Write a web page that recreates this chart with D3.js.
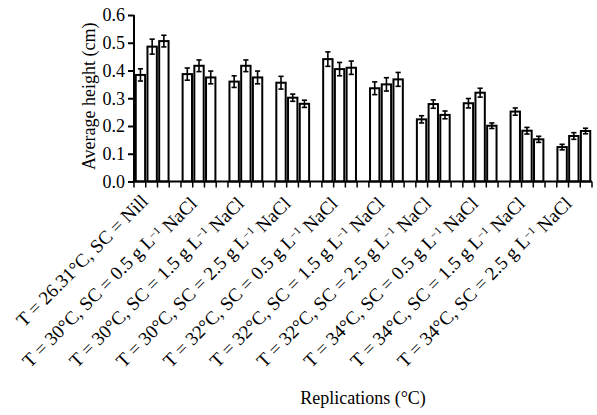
<!DOCTYPE html>
<html>
<head>
<meta charset="utf-8">
<script src="https://cdn.jsdelivr.net/npm/d3@7"></script>
<style>
  body { margin: 0; background: #fff; }
  svg text { font-family: "Liberation Serif", "Times New Roman", serif; fill: #000; }
</style>
</head>
<body>
<div id="wrapper"></div>
<script>
// data
const groups = [
  ["T = 26.31°C, SC = Nill"],
  ["T = 30°C, SC = 0.5 g L", "NaCl"],
  ["T = 30°C, SC = 1.5 g L", "NaCl"],
  ["T = 30°C, SC = 2.5 g L", "NaCl"],
  ["T = 32°C, SC = 0.5 g L", "NaCl"],
  ["T = 32°C, SC = 1.5 g L", "NaCl"],
  ["T = 32°C, SC = 2.5 g L", "NaCl"],
  ["T = 34°C, SC = 0.5 g L", "NaCl"],
  ["T = 34°C, SC = 1.5 g L", "NaCl"],
  ["T = 34°C, SC = 2.5 g L", "NaCl"]
]
const rep1 = [0.384, 0.387, 0.360, 0.356, 0.441, 0.336, 0.224, 0.282, 0.252, 0.124]
const rep2 = [0.486, 0.417, 0.417, 0.302, 0.405, 0.350, 0.279, 0.320, 0.183, 0.164]
const rep3 = [0.506, 0.375, 0.375, 0.280, 0.410, 0.368, 0.240, 0.201, 0.152, 0.182]
const err1 = [0.022, 0.022, 0.021, 0.023, 0.026, 0.023, 0.013, 0.017, 0.013, 0.010]
const err2 = [0.027, 0.021, 0.021, 0.013, 0.024, 0.024, 0.015, 0.016, 0.012, 0.012]
const err3 = [0.021, 0.023, 0.023, 0.013, 0.024, 0.025, 0.014, 0.010, 0.011, 0.010]
const yTicks = [0.0, 0.1, 0.2, 0.3, 0.4, 0.5, 0.6]

function drawChart() {
  const dataset = []
  const reps = [rep1, rep2, rep3]
  const errs = [err1, err2, err3]
  groups.forEach((g, i) => {
    reps.forEach((r, j) => {
      dataset.push({ group: i, rep: j, value: r[i], err: errs[j][i] })
    })
  })

  const serif = "'Liberation Serif', 'Times New Roman', serif"
  const dimensions = {
    width: 597,
    height: 415,
    margin: { top: 15, right: 5, bottom: 233.5, left: 134 }
  }
  dimensions.boundedWidth = 458
  dimensions.boundedHeight = dimensions.height - dimensions.margin.top - dimensions.margin.bottom

  const wrapper = d3.select("#wrapper")
    .append("svg")
      .attr("width", dimensions.width)
      .attr("height", dimensions.height)

  const bounds = wrapper.append("g")
    .attr("transform", `translate(${dimensions.margin.left}, ${dimensions.margin.top})`)

  // scales: 4 slots per group (3 bars + gap), last gap dropped
  const slot = d => d.group * 4 + d.rep
  const xScale = d3.scaleBand()
    .domain(d3.range(groups.length * 4 - 1))
    .range([0, dimensions.boundedWidth])
    .paddingInner(0.2)
    .paddingOuter(0.15)

  const yScale = d3.scaleLinear()
    .domain([0, 0.6])
    .range([dimensions.boundedHeight, 0])

  // bars
  bounds.selectAll("rect.bar")
    .data(dataset)
    .enter().append("rect")
      .attr("class", "bar")
      .attr("x", d => xScale(slot(d)))
      .attr("y", d => yScale(d.value))
      .attr("width", xScale.bandwidth())
      .attr("height", d => yScale(0) - yScale(d.value))
      .attr("fill", "#fff")
      .attr("stroke", "#000")
      .attr("stroke-width", 2)

  // error bars
  const cx = d => xScale(slot(d)) + xScale.bandwidth() / 2
  const errG = bounds.selectAll("g.err")
    .data(dataset)
    .enter().append("g")
      .attr("class", "err")
      .attr("stroke", "#000")
      .attr("stroke-width", 1.6)
  errG.append("line")
    .attr("x1", cx).attr("x2", cx)
    .attr("y1", d => yScale(d.value + d.err))
    .attr("y2", d => yScale(d.value - d.err))
  errG.append("line")
    .attr("x1", d => cx(d) - 2.6).attr("x2", d => cx(d) + 2.6)
    .attr("y1", d => yScale(d.value + d.err))
    .attr("y2", d => yScale(d.value + d.err))
  errG.append("line")
    .attr("x1", d => cx(d) - 2.6).attr("x2", d => cx(d) + 2.6)
    .attr("y1", d => yScale(d.value - d.err))
    .attr("y2", d => yScale(d.value - d.err))

  // y axis
  const yAxisGenerator = d3.axisLeft()
    .scale(yScale)
    .tickValues(yTicks)
    .tickFormat(d3.format(".1f"))
    .tickSize(6)
    .tickPadding(3)

  const yAxis = bounds.append("g")
    .call(yAxisGenerator)
    .attr("font-family", serif)
    .attr("font-size", 18)
  yAxis.select(".domain").attr("stroke-width", 2).attr("d", `M0,0V${dimensions.boundedHeight}`)
  yAxis.selectAll(".tick line").attr("stroke-width", 2)

  yAxis.append("text")
    .attr("transform", `rotate(-90)`)
    .attr("x", -dimensions.boundedHeight / 2 + 2)
    .attr("y", -39)
    .attr("text-anchor", "middle")
    .attr("font-size", 18)
    .text("Average height (cm)")

  // x axis: line plus tick marks at slot boundaries
  const xAxis = bounds.append("g")
    .attr("transform", `translate(0, ${dimensions.boundedHeight})`)
    .attr("font-family", serif)
  xAxis.append("line")
    .attr("x1", 0).attr("x2", dimensions.boundedWidth)
    .attr("stroke", "#000").attr("stroke-width", 2)
  const tickX = d3.range(groups.length * 4).map(i => i * dimensions.boundedWidth / (groups.length * 4 - 1))
  xAxis.selectAll("line.xtick")
    .data(tickX)
    .enter().append("line")
      .attr("class", "xtick")
      .attr("x1", d => d).attr("x2", d => d)
      .attr("y1", 0).attr("y2", 6)
      .attr("stroke", "#000").attr("stroke-width", 1.5)

  // group labels
  const groupCenter = i => (xScale(i * 4) + xScale(i * 4 + 2) + xScale.bandwidth()) / 2
  const labels = xAxis.selectAll("text.glabel")
    .data(groups)
    .enter().append("text")
      .attr("class", "glabel")
      .attr("transform", (d, i) => `translate(${groupCenter(i) - 3}, 21) rotate(-45)`)
      .attr("text-anchor", "end")
      .attr("font-size", 19)
  labels.each(function(d) {
    const t = d3.select(this)
    t.append("tspan").text(d[0])
    if (d.length > 1) {
      t.append("tspan").attr("dy", "-0.4em").attr("font-size", 11).text("−1")
      t.append("tspan").attr("dy", "0.4em").text(" " + d[1])
    }
  })

  wrapper.append("text")
    .attr("x", 363)
    .attr("y", 404)
    .attr("text-anchor", "middle")
    .attr("font-size", 18)
    .text("Replications (°C)")
}

drawChart()
</script>
</body>
</html>
